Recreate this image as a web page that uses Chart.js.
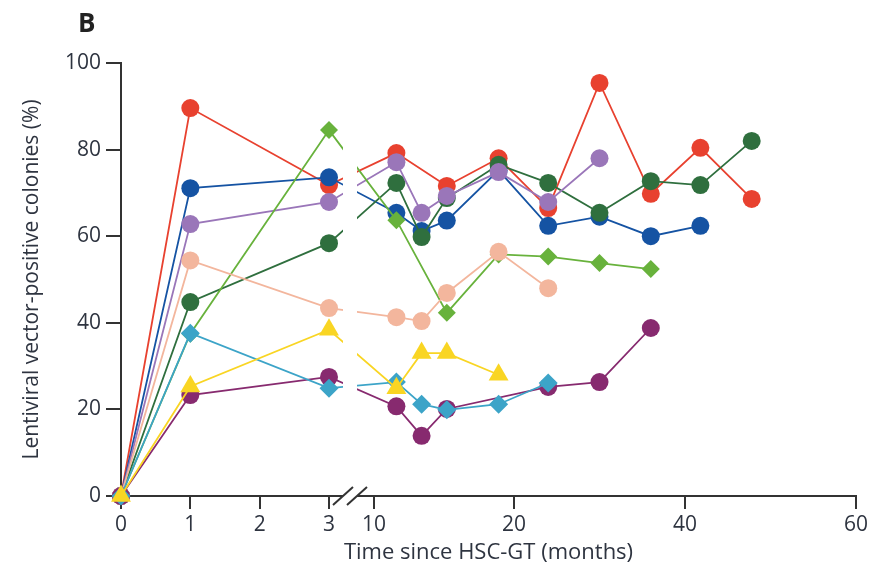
<!DOCTYPE html>
<html>
<head>
<meta charset="utf-8">
<title>Lentiviral vector-positive colonies</title>
<script src="https://cdn.jsdelivr.net/npm/chart.js@4.4.1/dist/chart.umd.min.js"></script>
<style>
  html, body { margin: 0; padding: 0; background: #fff; }
  #wrap { width: 879px; height: 572px; }
</style>
</head>
<body>
<div id="wrap"><canvas id="colonies"></canvas></div>
<script>
// months after HSC-GT at which colonies were scored
const months = [0, 1, 3, 11.6, 13.4, 15.2, 18.9, 24, 30, 36, 41.8, 47.8];

// % vector-positive colonies per patient, null = not sampled
const red        = [0, 89.6, 71.8, 79.2, null, 71.6, 78.0, 66.5, 95.4, 69.8, 80.4, 68.6];
const blue       = [0, 71.1, 73.6, 65.4, 61.2, 63.6, 75.2, 62.4, 64.5, 60.0, 62.4, null];
const purple     = [0, 62.8, 67.9, 77.1, 65.4, 69.3, 74.8, 67.9, 78.0, null, null, null];
const darkGreen  = [0, 44.8, 58.4, 72.3, 59.8, 68.8, 76.5, 72.3, 65.4, 72.7, 71.8, 82.0];
const lightGreen = [0, 37.5, 84.5, 63.7, null, 42.3, 55.8, 55.3, 53.8, 52.4, null, null];
const pink       = [0, 54.4, 43.4, 41.3, 40.4, 46.9, 56.4, 48.0, null, null, null, null];
const yellow     = [0, 25.3, 38.4, 24.9, 33.0, 33.0, 28.0, null, null, null, null, null];
const teal       = [0, 37.6, 24.9, 26.3, 21.2, 19.9, 21.2, 26.1, null, null, null, null];
const plum       = [0, 23.3, 27.5, 20.7, 13.9, 20.1, null, 25.2, 26.3, 38.8, null, null];

const xTicks = [0, 1, 2, 3, 10, 20, 40, 60];
const yTicks = [0, 20, 40, 60, 80, 100];

// broken time axis: first 3 months get most of the room, the rest is squeezed
const xTickPos = [0, 69.33, 138.67, 208, 253, 393, 564, 735];

function toAxis(m) {
  for (var i = 1; i < xTicks.length; i++) {
    if (m <= xTicks[i]) {
      var t = (m - xTicks[i - 1]) / (xTicks[i] - xTicks[i - 1]);
      return xTickPos[i - 1] + t * (xTickPos[i] - xTickPos[i - 1]);
    }
  }
  return xTickPos[xTickPos.length - 1];
}

function series(values, color, shape, radius) {
  var points = [];
  months.forEach((m, i) => {
    if (values[i] !== null) points.push({ x: toAxis(m), y: values[i] });
  });
  return {
    data: points,
    borderColor: color,
    backgroundColor: color,
    borderWidth: 1.8,
    pointStyle: shape,
    pointRadius: radius,
    pointBorderWidth: 0,
    pointBackgroundColor: color,
    tension: 0,
    clip: false
  };
}

const axisColor = '#333';
const textColor = '#2e3440';
const fontFamily = "'Open Sans', sans-serif";

// white gap with the two slashes where the time axis jumps from 3 to 10
const axisBreak = {
  id: 'axisBreak',
  afterDatasetsDraw(chart) {
    const ctx = chart.ctx;
    const x = chart.scales.x;
    const area = chart.chartArea;
    const from = x.getPixelForValue(toAxis(3)) + 14;
    const to = x.getPixelForValue(toAxis(10)) - 17;
    ctx.save();
    ctx.fillStyle = '#fff';
    ctx.fillRect(from, area.top - 20, to - from, area.bottom + 2 - (area.top - 20));
    ctx.strokeStyle = axisColor;
    ctx.lineWidth = 2;
    [from, to].forEach(px => {
      ctx.beginPath();
      ctx.moveTo(px - 10, area.bottom + 9);
      ctx.lineTo(px + 10, area.bottom - 9);
      ctx.stroke();
    });
    ctx.restore();
  }
};

const panelLabel = {
  id: 'panelLabel',
  afterDraw(chart) {
    const ctx = chart.ctx;
    ctx.save();
    ctx.fillStyle = '#222';
    ctx.font = "bold 26px 'Open Sans', sans-serif";
    ctx.textAlign = 'left';
    ctx.textBaseline = 'alphabetic';
    ctx.fillText('B', 78, 32);
    ctx.restore();
  }
};

new Chart(document.getElementById('colonies'), {
  type: 'line',
  data: {
    datasets: [
      series(yellow, '#f9d523', 'triangle', 11.5),
      series(teal, '#3ca4c8', 'rectRot', 9.5),
      series(plum, '#872a6f', 'circle', 9),
      series(pink, '#f3b69d', 'circle', 9),
      series(lightGreen, '#68b23c', 'rectRot', 9),
      series(purple, '#9a76b9', 'circle', 9),
      series(darkGreen, '#2f6f3e', 'circle', 9),
      series(blue, '#1553a3', 'circle', 9),
      series(red, '#e8412f', 'circle', 9)
    ]
  },
  options: {
    responsive: true,
    maintainAspectRatio: false,
    devicePixelRatio: 1,
    animation: false,
    layout: { padding: { top: 63, right: 23, bottom: 0, left: 0 } },
    plugins: {
      legend: { display: false },
      tooltip: { enabled: false }
    },
    scales: {
      x: {
        type: 'linear',
        min: 0,
        max: toAxis(60),
        afterBuildTicks(scale) {
          scale.ticks = xTicks.map(m => ({ value: toAxis(m) }));
        },
        afterFit(scale) { scale.height = 76; },
        ticks: {
          autoSkip: false,
          maxRotation: 0,
          padding: 3,
          color: textColor,
          font: { family: fontFamily, size: 21 },
          callback: (v, i) => xTicks[i]
        },
        grid: { drawOnChartArea: false, tickLength: 13, color: axisColor, lineWidth: 2 },
        border: { color: axisColor, width: 2 },
        title: {
          display: true,
          text: 'Time since HSC-GT (months)',
          color: textColor,
          font: { family: fontFamily, size: 22 },
          padding: { top: 0, bottom: 6 }
        }
      },
      y: {
        min: 0,
        max: 100,
        afterBuildTicks(scale) {
          scale.ticks = yTicks.map(v => ({ value: v }));
        },
        afterFit(scale) { scale.width = 121; },
        ticks: {
          padding: 5,
          color: textColor,
          font: { family: fontFamily, size: 21 }
        },
        grid: { drawOnChartArea: false, tickLength: 15, color: axisColor, lineWidth: 2 },
        border: { color: axisColor, width: 2 },
        title: {
          display: true,
          text: 'Lentiviral vector-positive colonies (%)',
          color: textColor,
          font: { family: fontFamily, size: 21 },
          padding: { top: 19, bottom: 0 }
        }
      }
    }
  },
  plugins: [axisBreak, panelLabel]
});
</script>
</body>
</html>
